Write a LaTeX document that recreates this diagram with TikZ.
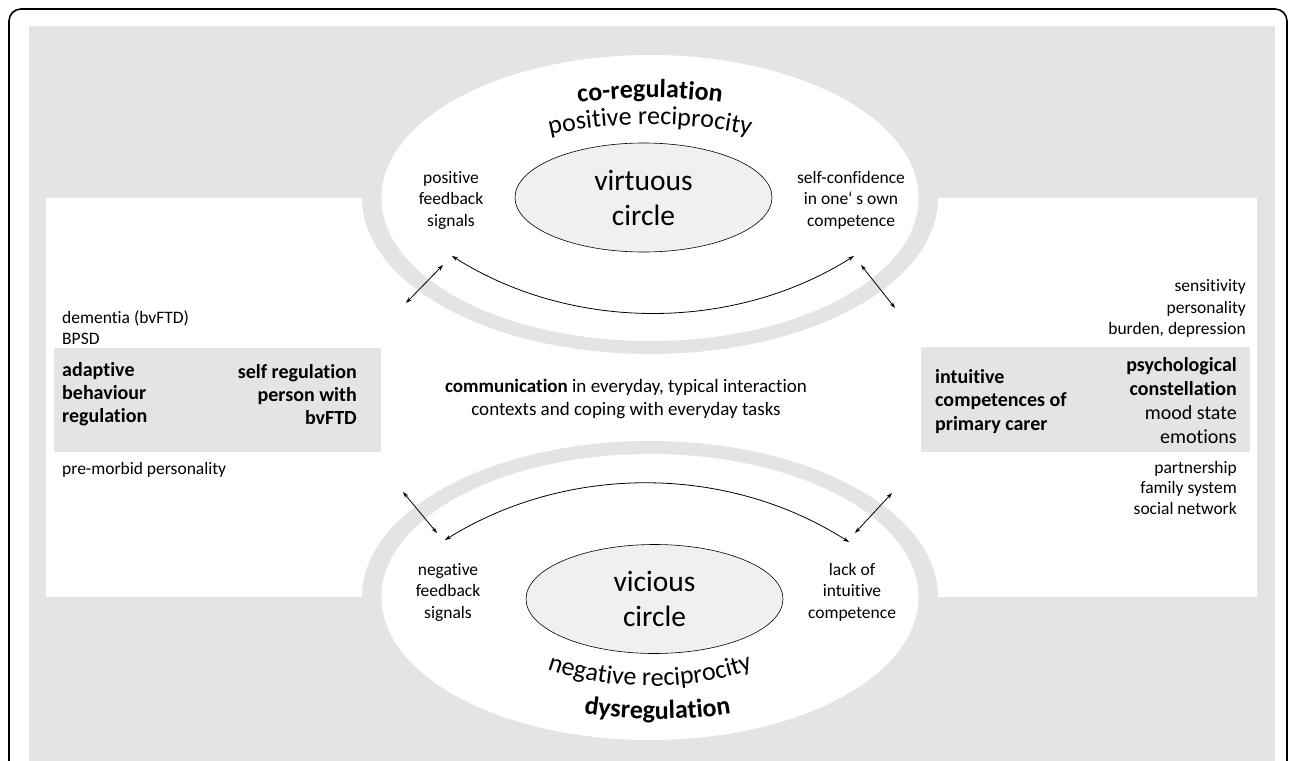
\documentclass[tikz,border=0pt]{standalone}
\usepackage{fontspec}
\defaultfontfeatures{}
\setmainfont{Carlito}[Ligatures=NoCommon]
\usetikzlibrary{arrows.meta, shapes.geometric, decorations.text}
\definecolor{fond}{HTML}{E4E4E4}
\definecolor{cercle}{HTML}{F0F0F0}
\tikzset{
    twoway/.style={{Stealth[length=6pt, width=4pt]}-{Stealth[length=6pt, width=4pt]}, line width=0.8pt},
    smalltext/.style={font=\fontsize{17.5}{21.5}\selectfont, inner sep=0pt},
    boldtext/.style={font=\fontsize{20}{23}\selectfont\bfseries, inner sep=0pt},
    loopshape/.style={ellipse, draw, fill=cercle, line width=0.6pt, minimum width=257pt, minimum height=109pt, inner sep=0pt, align=center, font=\fontsize{29.5}{35}\selectfont},
}

\begin{document}
\begin{tikzpicture}[x=1pt, y=1pt]
\useasboundingbox (0,0) rectangle (1292,-760);
\clip (0,0) rectangle (1292,-760);
% cadre et fond
\draw[line width=1.6pt, rounded corners=12pt] (9,-9) rectangle (1287,-800);
\fill[fond] (29,-26) rectangle (1275,-800);
\fill[white] (46,-198) rectangle (1257,-597);
% anneaux
\fill[fond] (650,-198) ellipse [x radius=288, y radius=156];
\fill[white] (650,-198) ellipse [x radius=268.5, y radius=143];
\fill[fond] (650,-597) ellipse [x radius=288, y radius=156];
\fill[white] (650,-597) ellipse [x radius=268.5, y radius=143];
% panneaux gris
\fill[fond] (54,-348) rectangle (381,-452);
\fill[fond] (921,-347) rectangle (1250,-452);

% cercle vertueux
\node[loopshape] (virtuous) at (643.5,-197.5) {virtuous\\circle};
\path[decorate, decoration={text along path, text align=center,
  text={|\fontsize{26}{30}\selectfont\bfseries|co-regulation}}]
  (558,-106) .. controls (614,-95) and (686,-95) .. (742,-106);
\path[decorate, decoration={text along path, text align=center,
  text={|\fontsize{26}{30}\selectfont|positive reciprocity}}]
  (528,-141) .. controls (598,-119) and (702,-119) .. (772,-141);
\node[smalltext, align=center] (posfb) at (451,-200) {positive\\feedback\\signals};
\node[smalltext, align=center] (selfconf) at (851,-200) {self-confidence\\in one\symbol{96} s own\\competence};

% cercle vicieux
\node[loopshape] (vicious) at (654.5,-599) {vicious\\circle};
\path[decorate, decoration={text along path, text align=center,
  text={|\fontsize{26}{30}\selectfont|negative reciprocity}}]
  (530,-662) .. controls (600,-694) and (700,-694) .. (770,-662);
\path[decorate, decoration={text along path, text align=center,
  text={|\fontsize{26}{30}\selectfont\bfseries|dysregulation}}]
  (565,-710) .. controls (620,-722) and (695,-722) .. (750,-710);
\node[smalltext, align=center] (negfb) at (448,-592) {negative\\feedback\\signals};
\node[smalltext, align=center] (lack) at (852,-592) {lack of\\intuitive\\competence};

% personne avec bvFTD
\node[smalltext, anchor=west, align=left] (dementia) at (62,-327.5) {dementia (bvFTD)\\BPSD};
\node[boldtext, anchor=west, align=left] (adaptive) at (62,-394.5) {adaptive\\behaviour\\regulation};
\node[boldtext, anchor=east, align=right] (selfreg) at (357,-394.5) {self regulation\\person with\\bvFTD};
\node[smalltext, anchor=west] (premorbid) at (62,-470) {pre-morbid personality};

% aidant principal
\node[smalltext, anchor=east, align=right] (sensitivity) at (1246,-308.5) {sensitivity\\personality\\burden, depression};
\node[boldtext, anchor=west, align=left, font=\fontsize{20}{23.5}\selectfont\bfseries] (intuitive) at (935,-401.5) {intuitive\\competences of\\primary carer};
\node[boldtext, anchor=east, align=right, font=\fontsize{20}{24}\selectfont] (psycho) at (1237,-401) {\textbf{psychological}\\\textbf{constellation}\\mood state\\emotions};
\node[smalltext, anchor=east, align=right, font=\fontsize{17.5}{20.5}\selectfont] (partner) at (1237,-487.5) {partnership\\family system\\social network};

% communication
\node[align=center, inner sep=0pt, font=\fontsize{19}{23}\selectfont] (comm) at (626,-398.5)
  {\textbf{communication} in everyday, typical interaction\\contexts and coping with everyday tasks};

% fleches
\coordinate (tl1) at (452,-256);
\coordinate (tr1) at (854,-256);
\coordinate (bl1) at (445,-540);
\coordinate (br1) at (849,-542);
\draw[twoway] (tl1) .. controls (572,-332) and (734,-332) .. (tr1);
\draw[twoway] (bl1) .. controls (567,-464) and (727,-464) .. (br1);
\coordinate (tla) at (443,-265);
\coordinate (tlb) at (406,-303);
\coordinate (tra) at (861,-265);
\coordinate (trb) at (895,-308);
\coordinate (bla) at (403,-492);
\coordinate (blb) at (437,-533);
\coordinate (bra) at (855,-533);
\coordinate (brb) at (892,-493);
\draw[twoway] (tla) -- (tlb);
\draw[twoway] (tra) -- (trb);
\draw[twoway] (bla) -- (blb);
\draw[twoway] (bra) -- (brb);
\end{tikzpicture}
\end{document}
